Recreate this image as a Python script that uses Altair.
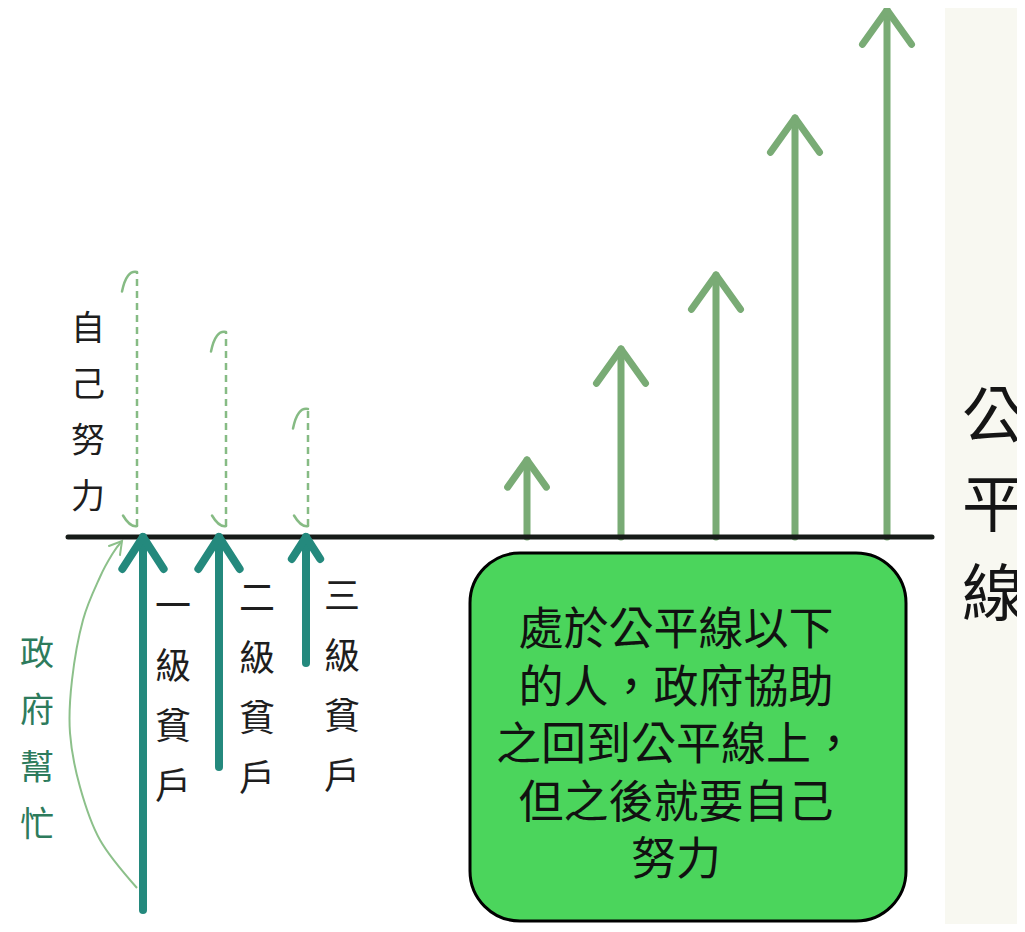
import altair as alt
import pandas as pd

# ---------------- data (x in layout units, y = height above the fairness line) -------------
line_start, line_end = 68, 932                     # the fairness line (公平線), at level 0

effort_x = [527, 621, 716, 795, 887]               # people above the line: own effort
effort_height = [77, 188, 262, 419, 527]

poor_labels = ["一級貧戶", "二級貧戶", "三級貧戶"]
poor_x = [143, 219, 306]
poor_depth = [-373, -230, -126]                     # how far below the line
poor_label_x = [173, 257, 342]
poor_label_y = [-71, -63, -61]

dash_x = [137, 226, 308]                           # potential own effort after help
dash_top = [265, 205, 128]
dash_bottom = [11, 11, 11]

arc_x = [137, 100, 80, 70, 72, 83, 100, 113, 122]  # government-help arc
arc_y = [-351, -303, -250, -196, -143, -83, -40, -16, -4]

effort_label = "自己努力"
gov_label = "政府幫忙"
fair_label = "公平線"
box_lines = ["處於公平線以下", "的人，政府協助", "之回到公平線上，", "但之後就要自己", "努力"]

# ---------------- tables ----------------
green = pd.DataFrame({"x": effort_x, "h": effort_height, "base": 0})
teal = pd.DataFrame({"x": poor_x, "d": poor_depth, "tip": 0})
dash = pd.DataFrame({"x": dash_x, "top": dash_top, "bot": dash_bottom})
arc = pd.DataFrame({"x": arc_x, "y": arc_y, "i": range(len(arc_x))})
fair = pd.DataFrame({"x": [line_start], "x2": [line_end], "y": [0]})
poor_lab = pd.DataFrame({"x": poor_label_x, "y": poor_label_y,
                         "t": ["\n".join(s) for s in poor_labels]})

XS = alt.Scale(domain=[8, 1017], nice=False, zero=False)
YS = alt.Scale(domain=[-387, 529], nice=False, zero=False)


def X(f):
    return alt.X(f, type="quantitative", scale=XS, axis=None)


def Y(f):
    return alt.Y(f, type="quantitative", scale=YS, axis=None)


GREEN = "#79ab75"
TEAL = "#24897d"
DASH = "#86bb84"
BLACK = "#161b18"
FONT = "Noto Sans CJK TC"

strip = alt.Chart(pd.DataFrame({"x": [945], "x2": [1017], "y": [-387], "y2": [529]})).mark_rect(
    color="#f8f8f1").encode(x=X("x"), x2="x2", y=Y("y"), y2="y2")

green_shaft = alt.Chart(green).mark_rule(color=GREEN, strokeWidth=7, strokeCap="round").encode(
    x=X("x"), y=Y("base"), y2="h")
green_head = alt.Chart(green).mark_point(
    shape="M -1 1.4 L 0 0 L 1 1.4", filled=False, color=GREEN, strokeWidth=7,
    strokeCap="round", strokeJoin="round", opacity=1).encode(
    x=X("x"), y=Y("h"),
    size=alt.condition(alt.datum.h < 100, alt.value(1500), alt.value(2400)))

dash_rule = alt.Chart(dash).mark_rule(color=DASH, strokeWidth=2.5, strokeDash=[7, 5]).encode(
    x=X("x"), y=Y("bot"), y2="top")
dash_top_hook = alt.Chart(dash).mark_point(
    shape="M 0 0 Q -0.7 -0.15 -1 1.3", filled=False, color=DASH, strokeWidth=2.5,
    strokeCap="round", opacity=1, size=900).encode(x=X("x"), y=Y("top"))
dash_bot_hook = alt.Chart(dash).mark_point(
    shape="M 0 0 Q -0.5 0.1 -1 -0.75", filled=False, color=DASH, strokeWidth=2.5,
    strokeCap="round", opacity=1, size=784).encode(x=X("x"), y=Y("bot"))

arc_line = alt.Chart(arc).mark_line(color="#8cc08a", strokeWidth=2, interpolate="cardinal").encode(
    x=X("x"), y=Y("y"), order="i:O")
arc_head = alt.Chart(arc.tail(1)).mark_point(
    shape="M -1.86 0.71 L 0 0 L -0.29 2", filled=False, color="#8cc08a", strokeWidth=2,
    strokeCap="round", opacity=1, size=196).encode(x=X("x"), y=Y("y"))

fair_line = alt.Chart(fair).mark_rule(color=BLACK, strokeWidth=5, strokeCap="round").encode(
    x=X("x"), x2="x2", y=Y("y"))

teal_shaft = alt.Chart(teal).mark_rule(color=TEAL, strokeWidth=8, strokeCap="round").encode(
    x=X("x"), y=Y("tip"), y2="d")
teal_head = alt.Chart(teal).mark_point(
    shape="M -1 1.55 L 0 0 L 1 1.55", filled=False, color=TEAL, strokeWidth=8,
    strokeCap="round", strokeJoin="round", opacity=1).encode(
    x=X("x"), y=Y("tip"),
    size=alt.condition(alt.datum.d < -200, alt.value(1700), alt.value(800)))


def vtext(df, size, lh, color, weight="normal"):
    return alt.Chart(df).mark_text(
        font=FONT, fontSize=size, lineHeight=lh, lineBreak="\n", color=color,
        align="center", baseline="middle", fontWeight=weight).encode(
        x=X("x"), y=Y("y"), text="t:N")


effort_txt = vtext(pd.DataFrame({"x": [88], "y": [207], "t": ["\n".join(effort_label)]}), 34, 56, "#1e1e1e")
gov_txt = vtext(pd.DataFrame({"x": [37], "y": [-118], "t": ["\n".join(gov_label)]}), 34, 57, "#2d7b5c")
poor_txt = vtext(poor_lab, 36, 60, "#1e1e1e")
fair_txt = vtext(pd.DataFrame({"x": [993], "y": [118], "t": ["\n".join(fair_label)]}), 62, 89, "#151515")

box = alt.Chart(pd.DataFrame({"x": [470], "x2": [906], "y": [-16], "y2": [-384]})).mark_rect(
    fill="#4bd55c", stroke="#000000", strokeWidth=3, cornerRadius=50).encode(
    x=X("x"), x2="x2", y=Y("y"), y2="y2")
box_txt = vtext(pd.DataFrame({"x": [676], "y": [-94], "t": ["\n".join(box_lines)]}), 45, 57.5, "#111111")

chart = alt.layer(
    strip, green_shaft, green_head, dash_rule, dash_top_hook, dash_bot_hook,
    arc_line, arc_head, fair_line, teal_shaft, teal_head,
    effort_txt, gov_txt, poor_txt, fair_txt, box, box_txt
).properties(
    width=1009, height=916, padding=0, autosize="none", background="#ffffff"
).configure_view(stroke=None)

chart.save("out.html", embed_options={"renderer": "svg", "actions": False})
